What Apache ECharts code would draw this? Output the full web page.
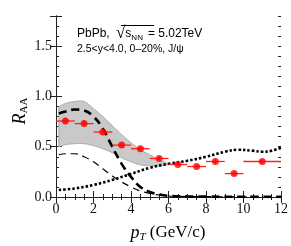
<!DOCTYPE html>
<html><head><meta charset="utf-8">
<script src="https://cdn.jsdelivr.net/npm/echarts@6/dist/echarts.min.js"></script>
<style>html,body{margin:0;padding:0;background:#fff}#c{width:291px;height:246px}</style>
</head><body><div id="c"></div>
<script>
// Data points (J/psi R_AA)
const ptX = [0.5, 1.5, 2.5, 3.5, 4.5, 5.5, 6.5, 7.5, 8.5, 9.5, 11];
const ptY = [0.756, 0.73, 0.646, 0.516, 0.48, 0.383, 0.323, 0.303, 0.353, 0.233, 0.353];
const ptXErr = [0.5, 0.5, 0.5, 0.5, 0.5, 0.5, 0.5, 0.5, 0.5, 0.5, 1];
const ptYErr = [0.03, 0.03, 0.03, 0.025, 0.02, 0.02, 0.015, 0.015, 0.02, 0.02, 0.02];
// Gray band
const bandX = [0.15, 0.5, 1, 1.5, 2, 2.5, 3, 3.5, 4, 4.5, 5, 5.5, 6];
const bandLow = [0.50, 0.52, 0.53, 0.53, 0.51, 0.48, 0.44, 0.39, 0.35, 0.32, 0.31, 0.31, 0.32];
const bandHigh = [0.90, 0.93, 0.95, 0.95, 0.88, 0.80, 0.71, 0.62, 0.54, 0.47, 0.42, 0.37, 0.33];
// Thick dashed curve
const thickX = [0.15, 0.5, 1, 1.5, 2, 2.5, 3, 3.5, 4, 4.5, 5, 5.5, 6, 7, 8, 10, 12];
const thickY = [0.83, 0.85, 0.87, 0.86, 0.80, 0.68, 0.50, 0.33, 0.20, 0.10, 0.05, 0.025, 0.012, 0.006, 0.004, 0.002, 0.001];
// Thin dashed curve
const thinX = [0.15, 0.5, 1, 1.5, 2, 2.5, 3, 3.5, 4, 4.5, 5, 5.5, 6, 7, 8, 10, 12];
const thinY = [0.42, 0.43, 0.43, 0.40, 0.35, 0.28, 0.21, 0.15, 0.10, 0.06, 0.035, 0.02, 0.01, 0.005, 0.003, 0.002, 0.001];
// Dotted curve
const dotX = [0.15, 1, 2, 3, 4, 5, 6, 7, 8, 9, 9.7, 10.5, 11, 11.5, 12];
const dotY = [0.07, 0.085, 0.12, 0.17, 0.23, 0.29, 0.33, 0.36, 0.40, 0.45, 0.47, 0.46, 0.45, 0.46, 0.49];
// Axis ticks
const xMin = 0, xMax = 12, xStep = 2;
const yMin = 0, yMax = 1.8, yStep = 0.5, yMinorStep = 0.1;

const zip = (a, b) => a.map((v, i) => [v, b[i]]);
const serif = '"Liberation Serif","DejaVu Serif",serif';
const sans = '"Liberation Sans","DejaVu Sans",sans-serif';
const axisCol = '#222';

const chart = echarts.init(document.getElementById('c'));
const baseX = {
  type: 'value', min: xMin, max: xMax, interval: xStep,
  axisLine: {show: true, lineStyle: {color: axisCol, width: 1}},
  axisTick: {show: true, inside: true, length: 6, lineStyle: {color: axisCol}},
  minorTick: {show: true, splitNumber: 4, length: 3, lineStyle: {color: axisCol}},
  splitLine: {show: false}, minorSplitLine: {show: false}
};
const yMajor = {
  type: 'value', min: yMin, max: yMax, interval: yStep,
  axisLine: {show: true, lineStyle: {color: axisCol, width: 1}},
  axisTick: {show: true, inside: true, length: 6, lineStyle: {color: axisCol}},
  splitLine: {show: false}
};
const yMinor = {
  type: 'value', min: yMin, max: yMax, interval: yMinorStep,
  axisLine: {show: false}, axisLabel: {show: false},
  axisTick: {show: true, inside: true, length: 3, lineStyle: {color: axisCol}},
  splitLine: {show: false}
};

// smooth path through points (Catmull-Rom)
function smoothPts(pts) {
  const out = [];
  for (let i = 0; i < pts.length - 1; i++) {
    const p0 = pts[Math.max(0, i - 1)], p1 = pts[i], p2 = pts[i + 1], p3 = pts[Math.min(pts.length - 1, i + 2)];
    for (let k = 0; k < 8; k++) {
      const t = k / 8, t2 = t * t, t3 = t2 * t;
      out.push([
        0.5 * (2 * p1[0] + (-p0[0] + p2[0]) * t + (2 * p0[0] - 5 * p1[0] + 4 * p2[0] - p3[0]) * t2 + (-p0[0] + 3 * p1[0] - 3 * p2[0] + p3[0]) * t3),
        0.5 * (2 * p1[1] + (-p0[1] + p2[1]) * t + (2 * p0[1] - 5 * p1[1] + 4 * p2[1] - p3[1]) * t2 + (-p0[1] + 3 * p1[1] - 3 * p2[1] + p3[1]) * t3)
      ]);
    }
  }
  out.push(pts[pts.length - 1]);
  return out;
}

chart.setOption({
  animation: false,
  grid: {left: 56, right: 9, top: 16, bottom: 49},
  xAxis: [
    Object.assign({}, baseX, {position: 'bottom',
      axisLabel: {show: true, margin: 5, color: '#111', fontFamily: serif, fontSize: 14}}),
    Object.assign({}, baseX, {position: 'top', axisLabel: {show: false}})
  ],
  yAxis: [
    Object.assign({}, yMajor, {position: 'left',
      axisLabel: {show: true, margin: 4, color: '#111', fontFamily: serif, fontSize: 14,
        formatter: v => (Math.abs(v / yStep - Math.round(v / yStep)) < 1e-6) ? v.toFixed(1) : ''}}),
    Object.assign({}, yMajor, {position: 'right', axisLabel: {show: false}}),
    Object.assign({}, yMinor, {position: 'left'}),
    Object.assign({}, yMinor, {position: 'right'})
  ],
  series: [
    {type: 'custom', z: 1, silent: true, data: [[0, 0]],
      renderItem: (params, api) => {
        const up = smoothPts(bandX.map((x, i) => api.coord([x, bandHigh[i]])));
        const lo = smoothPts(bandX.map((x, i) => api.coord([x, bandLow[i]])));
        const poly = up.concat(lo.slice().reverse());
        return {type: 'group', children: [
          {type: 'polygon', shape: {points: poly}, style: {fill: '#c9c9c9', stroke: '#a8a8a8', lineWidth: 1}}
        ]};
      }},
    {type: 'line', data: zip(thinX, thinY), symbol: 'none', smooth: 0.4,
      lineStyle: {width: 1.2, color: '#000', type: [7, 5]}, z: 3},
    {type: 'line', data: zip(dotX, dotY), symbol: 'none', smooth: 0.4,
      lineStyle: {width: 2.6, color: '#000', type: [2.5, 2]}, z: 3},
    {type: 'line', data: zip(thickX, thickY), symbol: 'none', smooth: 0.4,
      lineStyle: {width: 2.6, color: '#000', type: [8, 5]}, z: 4},
    {type: 'custom', z: 5,
      data: ptX.map((x, i) => [x, ptY[i], ptXErr[i], ptYErr[i]]),
      renderItem: (params, api) => {
        const x = api.value(0), y = api.value(1), xe = api.value(2), ye = api.value(3);
        const l = api.coord([x - xe, y]), r = api.coord([x + xe, y]);
        const t = api.coord([x, y + ye]), b = api.coord([x, y - ye]);
        const st = {stroke: '#ff2020', lineWidth: 1.3};
        return {type: 'group', children: [
          {type: 'line', shape: {x1: l[0], y1: l[1], x2: r[0], y2: r[1]}, style: st},
          {type: 'line', shape: {x1: t[0], y1: t[1], x2: b[0], y2: b[1]}, style: st}
        ]};
      }},
    {type: 'scatter', data: zip(ptX, ptY), symbol: 'circle', symbolSize: 7,
      itemStyle: {color: '#ff0000'}, z: 6}
  ],
  graphic: [
    {type: 'text', left: 77, top: 25, z: 100, style: {
      text: '{a|PbPb, }{r|√}{s|s}{n|NN}{b|= 5.02TeV}',
      rich: {
        a: {fontFamily: sans, fontSize: 12, fill: '#000', verticalAlign: 'middle', lineHeight: 16},
        b: {fontFamily: sans, fontSize: 12, fill: '#000', verticalAlign: 'middle', lineHeight: 16, padding: [0, 0, 0, 5]},
        r: {fontFamily: serif, fontSize: 17, fill: '#000', verticalAlign: 'middle', lineHeight: 16, padding: [0, 0, 0, 3]},
        s: {fontFamily: sans, fontSize: 12, fill: '#000', verticalAlign: 'middle', lineHeight: 16},
        n: {fontFamily: sans, fontSize: 8, fill: '#000', verticalAlign: 'bottom', lineHeight: 12}
      }}},
    {type: 'line', z: 100, shape: {x1: 121, y1: 25.5, x2: 154, y2: 25.5}, style: {stroke: '#000', lineWidth: 1}},
    {type: 'text', left: 77, top: 44, z: 100, style: {
      text: '2.5<y<4.0, 0–20%, J/ψ', fontFamily: sans, fontSize: 10.5, fill: '#000'}},
    {type: 'text', x: 20, y: 111, rotation: Math.PI / 2, style: {
      text: '{r|R}{s|AA}', align: 'center', verticalAlign: 'middle',
      rich: {
        r: {fontFamily: serif, fontStyle: 'italic', fontSize: 18, fill: '#000', verticalAlign: 'middle', lineHeight: 20},
        s: {fontFamily: serif, fontSize: 11, fill: '#000', verticalAlign: 'bottom', lineHeight: 14}
      }}},
    {type: 'text', x: 168, y: 233, style: {
      text: '{p|p}{t|T}{g| (GeV/c)}', align: 'center', verticalAlign: 'middle',
      rich: {
        p: {fontFamily: serif, fontStyle: 'italic', fontSize: 18, fill: '#000', verticalAlign: 'middle', lineHeight: 20},
        t: {fontFamily: serif, fontStyle: 'italic', fontSize: 11, fill: '#000', verticalAlign: 'bottom', lineHeight: 14},
        g: {fontFamily: serif, fontSize: 17, fill: '#000', verticalAlign: 'middle', lineHeight: 20}
      }}}
  ]
});
</script></body></html>
